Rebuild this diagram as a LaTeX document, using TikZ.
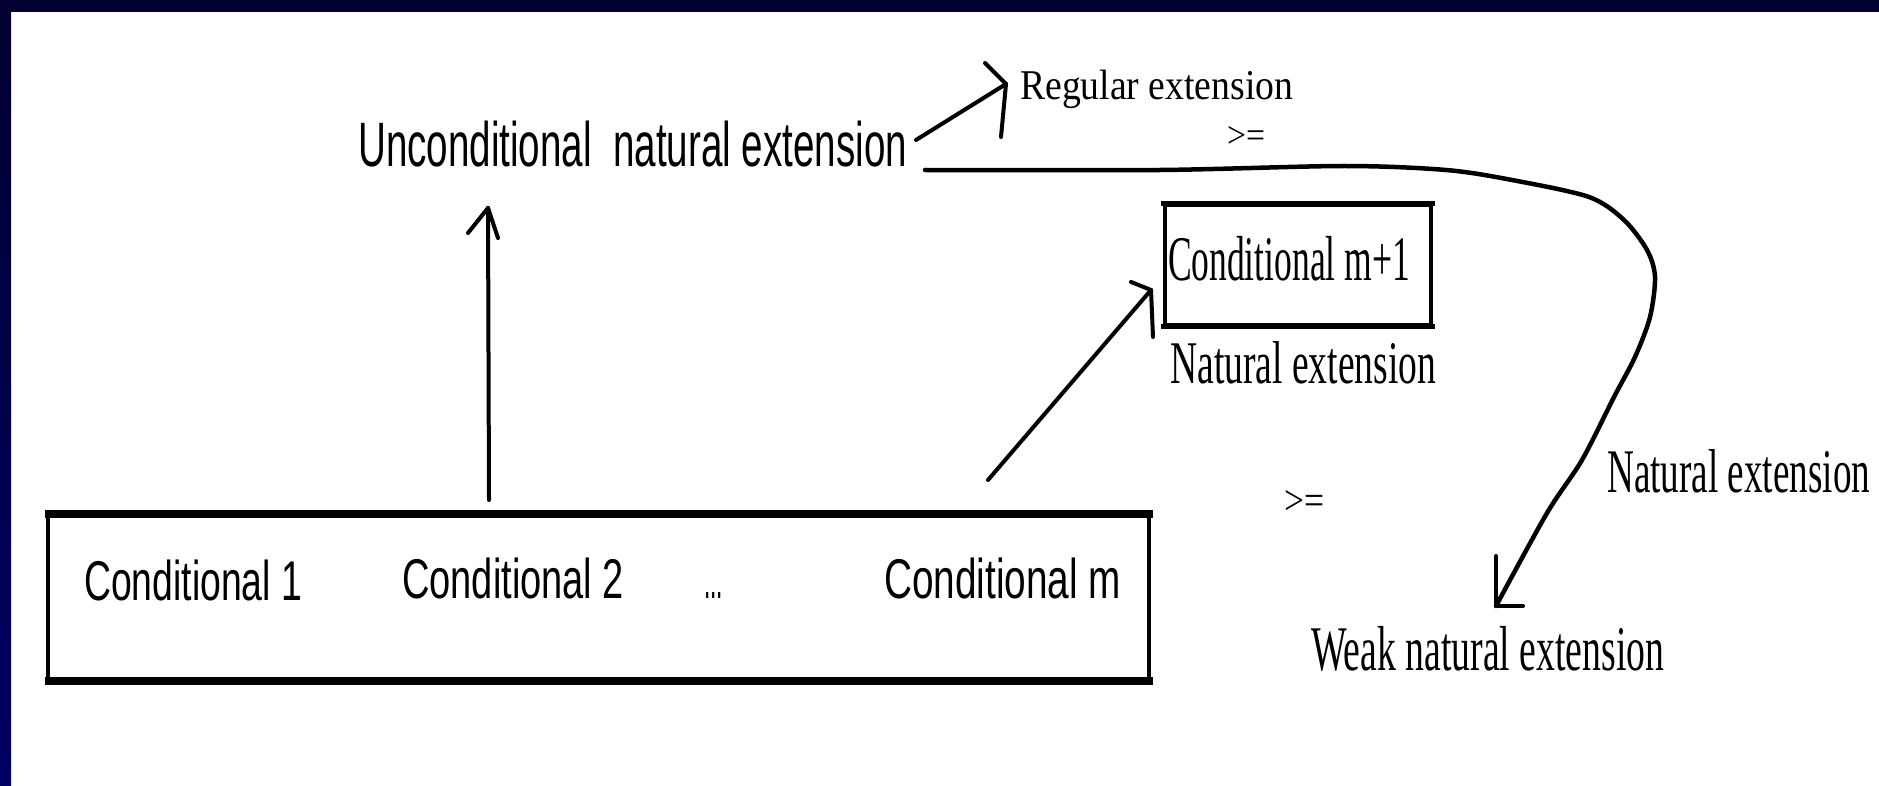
\documentclass[tikz,border=0pt]{standalone}
\usepackage{fontspec}
\usepackage{graphicx}
\newfontfamily\sansf{Liberation Sans}
\newfontfamily\seriff{Liberation Serif}
\newcommand{\fitS}[3]{\resizebox{#1pt}{\height}{\sansf\fontsize{#2pt}{#2pt}\selectfont #3}}
\newcommand{\fitR}[3]{\resizebox{#1pt}{\height}{\seriff\fontsize{#2pt}{#2pt}\selectfont #3}}
\definecolor{navytop}{RGB}{0,0,48}
\definecolor{navybot}{RGB}{0,0,102}
\tikzset{
  lbl/.style={inner sep=0pt, anchor=base west},
  ln/.style={line width=4pt, line cap=round, line join=round},
  curveln/.style={line width=4.5pt, line cap=round},
}
\begin{document}
\begin{tikzpicture}[x=1pt,y=-1pt]
\path[use as bounding box] (0,0) rectangle (1879,786);
\fill[white] (0,0) rectangle (1879,786);
\shade[top color=navytop, bottom color=navybot] (0,0) rectangle (11,786);
\fill[navytop] (0,0) rectangle (1879,12);

% texts
\node[lbl] (unc) at (358,167) {\fitS{549}{62.8}{Unconditional\ \ natural extension}};
\node[lbl] (reg) at (1020,100) {\fitR{273}{42.4}{Regular extension}};
\node[lbl] (ge1) at (1227,148) {\resizebox{38pt}{21pt}{\seriff >=}};
\node[lbl] (ne1) at (1170,383) {\fitR{266}{60.6}{Natural extension}};
\node[lbl] (ne2) at (1607,492) {\fitR{263}{62}{Natural extension}};
\node[lbl] (ge2) at (1284,514) {\resizebox{40pt}{24pt}{\seriff >=}};
\node[lbl] (wne) at (1311,670) {\fitR{353}{63.6}{Weak natural extension}};

% box m+1
\node[draw, line width=4pt, inner sep=0pt, minimum width=266pt, minimum height=119pt, text depth=13pt] (cm1) at (1298,265)
  {\makebox[266pt][l]{\hspace{3pt}\fitR{242}{63.6}{Conditional m+1}}};
\draw[line width=5.5pt] ([xshift=-2pt]cm1.north west) -- ([xshift=2pt]cm1.north east);
\draw[line width=5.5pt] ([xshift=-2pt]cm1.south west) -- ([xshift=2pt]cm1.south east);

% big box
\node[draw, line width=3.5pt, inner sep=0pt, minimum width=1101pt, minimum height=163pt] (big) at (598.5,597.5) {};
\draw[line width=8pt] ([xshift=-1.75pt]big.north west) -- ([xshift=1.75pt]big.north east);
\draw[line width=8pt] ([xshift=-1.75pt]big.south west) -- ([xshift=1.75pt]big.south east);
\node[lbl] (c1) at (84,600) {\fitS{218}{56}{Conditional 1}};
\node[lbl] (c2) at (402,598) {\fitS{222}{56}{Conditional 2}};
\node[lbl] (dots) at (704,598) {\fitS{19}{56}{...}};
\node[lbl] (cm) at (884,598) {\fitS{237}{56}{Conditional m}};

% vertical arrow
\coordinate (a1s) at (489,500);
\coordinate (a1t) at (488,208);
\draw[ln] (a1s) -- (a1t);
\draw[ln] (a1t) -- ++(-20,25);
\draw[ln] (a1t) -- ++(10,30);

% diagonal arrow to m+1
\coordinate (a2s) at (988,480);
\coordinate (a2t) at (1151,290);
\draw[ln] (a2s) -- (a2t);
\draw[ln] (a2t) -- ++(-20,-8);
\draw[ln] (a2t) -- ++(2,47);

% arrow to regular extension
\coordinate (a3s) at (916,140);
\coordinate (a3t) at (1006,84);
\draw[ln] (a3s) -- (a3t);
\draw[ln] (a3t) -- ++(-21,-21);
\draw[ln] (a3t) -- ++(-5,53);

% long curve
\coordinate (cst) at (925,170);
\coordinate (ct) at (1496,606);
\draw[curveln] plot[smooth, tension=0.5] coordinates {(cst) (1160,170) (1344,166) (1446,170) (1512,180) (1589,197) (1624,220) (1647,250) (1655,277) (1650,317) (1635,357) (1614,397) (1582,460) (1547,513) (ct)};
\draw[ln] (ct) -- ++(0,-50);
\draw[ln] (ct) -- ++(27,0);
\end{tikzpicture}
\end{document}
